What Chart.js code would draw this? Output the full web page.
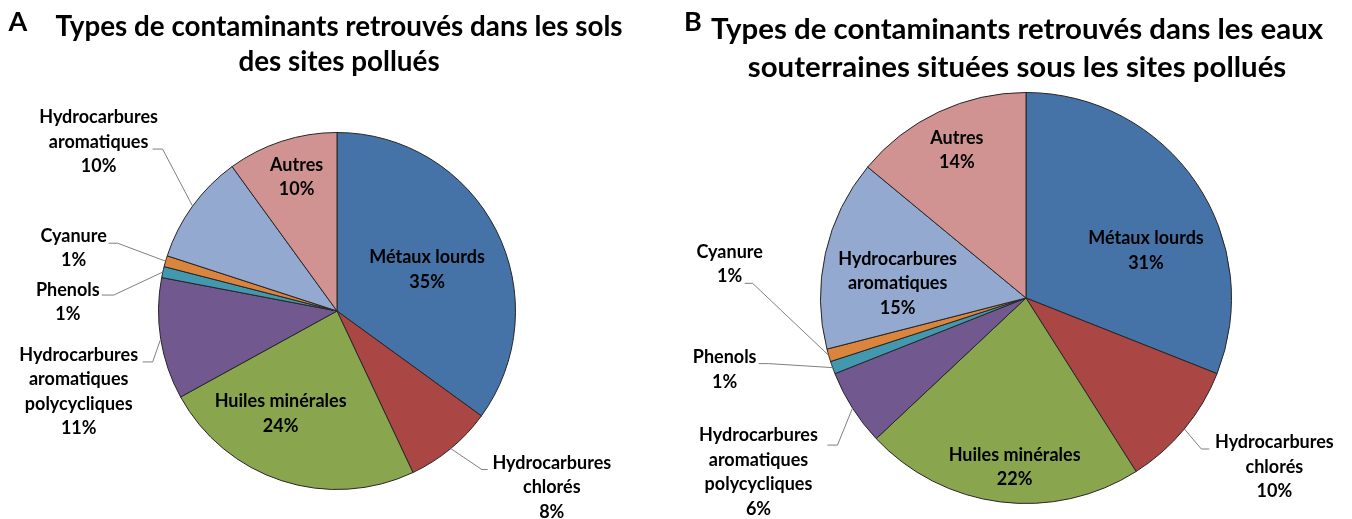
<!DOCTYPE html>
<html>
<head>
<meta charset="utf-8">
<script src="https://cdn.jsdelivr.net/npm/chart.js@4"></script>
<style>
  body { margin: 0; background: #fff; }
  .box { position: absolute; top: 0; width: 676px; height: 519px; }
</style>
</head>
<body>
<div class="box" style="left:0"><canvas id="chart-sols" width="676" height="519"></canvas></div>
<div class="box" style="left:676px"><canvas id="chart-eaux" width="676" height="519"></canvas></div>
<script>
'use strict';

// category names, split the way they wrap on the slices
var labelLines = [
  ['Métaux lourds'],
  ['Hydrocarbures', 'chlorés'],
  ['Huiles minérales'],
  ['Hydrocarbures', 'aromatiques', 'polycycliques'],
  ['Phenols'],
  ['Cyanure'],
  ['Hydrocarbures', 'aromatiques'],
  ['Autres']
];
var categories = labelLines.map(function(l) { return l.join(' '); });

// % of polluted sites
var solsValues = [35, 8, 24, 11, 1, 1, 10, 10];
var eauxValues = [31, 10, 22, 6, 1, 1, 15, 14];

var solsTitle = ['Types de contaminants retrouvés dans les sols', 'des sites pollués'];
var eauxTitle = ['Types de contaminants retrouvés dans les eaux', 'souterraines situées sous les sites pollués'];

var colors = ['#4572A7', '#AA4643', '#89A54E', '#71588F', '#4198AF', '#DB843D', '#93A9CF', '#D19392'];
var FONT = 'Lato, "Open Sans", sans-serif';

// where each label sits: k = fraction of radius along the slice middle, dx/dy nudge,
// elbow/tail = leader line for labels outside the pie
var solsPlace = [
  {k: 0.56, dx: 1, dy: 4},
  {k: 1, dx: 101, dy: 39, elbow: [31, 21], tail: 6},
  {k: 0.605, dx: -23, dy: 0},
  {k: 1, dx: -82, dy: 53, elbow: [-8, 23], tail: -10},
  {k: 1, dx: -95, dy: 30, elbow: [-49, 23], tail: -12},
  {k: 1, dx: -92, dy: -13, elbow: [-48, -18], tail: -9},
  {k: 1, dx: -94, dy: -64, elbow: [-30, -57], tail: -10},
  {k: 0.787, dx: 3, dy: 0}
];
var eauxPlace = [
  {k: 0.6, dx: 18, dy: 22},
  {k: 1, dx: 90, dy: 38, elbow: [17, 20], tail: 8},
  {k: 0.83, dx: 10, dy: 0},
  {k: 1, dx: -94, dy: 64, elbow: [-15, 37], tail: -10},
  {k: 1, dx: -108, dy: 2, elbow: [-64, -4], tail: -10},
  {k: 1, dx: -99, dy: -91, elbow: [-76, -72], tail: -8},
  {k: 0.64, dx: 0, dy: 14},
  {k: 0.79, dx: 0, dy: -1}
];

var pieLabels = {
  id: 'pieLabels',
  afterDraw: function(chart, args, opts) {
    var ctx = chart.ctx;
    var values = chart.data.datasets[0].data;
    var total = values.reduce(function(a, b) { return a + b; }, 0);
    ctx.save();

    // title + panel letter
    ctx.fillStyle = '#000';
    ctx.textAlign = 'center';
    ctx.textBaseline = 'middle';
    ctx.font = 'bold ' + opts.titleSize + 'px ' + FONT;
    opts.title.forEach(function(line, i) {
      ctx.fillText(line, opts.titleX, opts.titleY + i * opts.titleGap);
    });
    ctx.font = 'bold 27px ' + FONT;
    ctx.fillText(opts.letter, opts.letterX, 22);

    var meta = chart.getDatasetMeta(0);
    ctx.font = 'bold 18px ' + FONT;
    meta.data.forEach(function(arc, i) {
      var p = arc.getProps(['x', 'y', 'startAngle', 'endAngle', 'outerRadius'], true);
      var mid = (p.startAngle + p.endAngle) / 2;
      var pl = opts.place[i];
      var bx = p.x + Math.cos(mid) * p.outerRadius * pl.k;
      var by = p.y + Math.sin(mid) * p.outerRadius * pl.k;
      var lines = labelLines[i].concat([Math.round(values[i] / total * 100) + '%']);

      if (pl.elbow) {
        ctx.strokeStyle = '#7f7f7f';
        ctx.lineWidth = 1;
        ctx.beginPath();
        ctx.moveTo(bx, by);
        ctx.lineTo(bx + pl.elbow[0], by + pl.elbow[1]);
        ctx.lineTo(bx + pl.elbow[0] + pl.tail, by + pl.elbow[1]);
        ctx.stroke();
      }

      var tx = bx + pl.dx;
      var ty = by + pl.dy - (lines.length - 1) * 24.5 / 2;
      ctx.fillStyle = '#000';
      lines.forEach(function(line, j) {
        ctx.fillText(line, tx, ty + j * 24.5);
      });
    });
    ctx.restore();
  }
};

function drawPie(id, values, padding, labelOpts) {
  return new Chart(document.getElementById(id), {
    type: 'pie',
    data: {
      labels: categories,
      datasets: [{
        data: values,
        backgroundColor: colors,
        borderColor: '#262626',
        borderWidth: 1
      }]
    },
    options: {
      responsive: false,
      animation: false,
      layout: { padding: padding },
      plugins: {
        legend: { display: false },
        tooltip: { enabled: false },
        pieLabels: labelOpts
      }
    },
    plugins: [pieLabels]
  });
}

drawPie('chart-sols', solsValues, {left: 158, right: 160, top: 132, bottom: 29}, {
  place: solsPlace, title: solsTitle, titleSize: 27.8, titleX: 339, titleY: 27, titleGap: 35,
  letter: 'A', letterX: 18
});
drawPie('chart-eaux', eauxValues, {left: 144, right: 120, top: 92, bottom: 15}, {
  place: eauxPlace, title: eauxTitle, titleSize: 29.4, titleX: 341, titleY: 30, titleGap: 38,
  letter: 'B', letterX: 17
});
</script>
</body>
</html>
